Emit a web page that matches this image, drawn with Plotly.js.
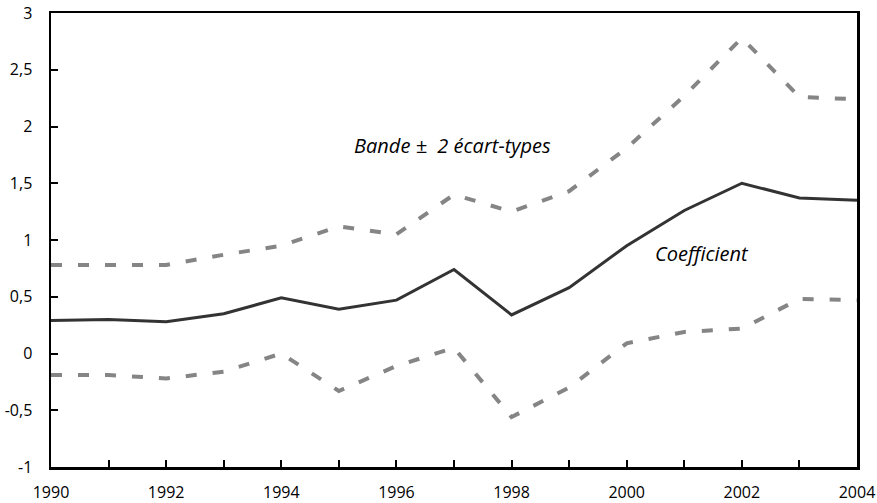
<!DOCTYPE html>
<html>
<head>
<meta charset="utf-8">
<script src="https://cdn.plot.ly/plotly-3.0.1.min.js"></script>
<style>html,body{margin:0;padding:0;background:#fff;}#chart{width:877px;height:503px;}</style>
</head>
<body>
<div id="chart"></div>
<script>
var years = [1990,1991,1992,1993,1994,1995,1996,1997,1998,1999,2000,2001,2002,2003,2004];
var coefficient = [0.29,0.30,0.28,0.35,0.49,0.39,0.47,0.74,0.34,0.58,0.95,1.26,1.50,1.37,1.35];
var upperBand = [0.78,0.78,0.78,0.87,0.95,1.12,1.05,1.40,1.25,1.43,1.81,2.27,2.78,2.26,2.24];
var lowerBand = [-0.19,-0.19,-0.22,-0.16,0.00,-0.33,-0.11,0.05,-0.56,-0.30,0.09,0.19,0.22,0.48,0.47];
var xTickVals = [1990,1992,1994,1996,1998,2000,2002,2004];
var xTickText = ['1990','1992','1994','1996','1998','2000','2002','2004'];
var yTickVals = [-1,-0.5,0,0.5,1,1.5,2,2.5,3];
var yTickText = ['-1','-0,5','0','0,5','1','1,5','2','2,5','3'];
var labelBand = 'Bande \u00B1  2 écart-types';
var labelCoef = 'Coefficient';

var font = 'Open Sans, DejaVu Sans, sans-serif';
var traces = [
  {x: years, y: upperBand, type: 'scatter', mode: 'lines', line: {color: '#858585', width: 4, dash: '11px,16px'}, hoverinfo: 'skip'},
  {x: years, y: lowerBand, type: 'scatter', mode: 'lines', line: {color: '#858585', width: 4, dash: '11px,16px'}, hoverinfo: 'skip'},
  {x: years, y: coefficient, type: 'scatter', mode: 'lines', line: {color: '#333333', width: 3}, hoverinfo: 'skip'}
];
var layout = {
  width: 877, height: 503,
  margin: {l: 51, r: 20, t: 13, b: 36, pad: 0},
  paper_bgcolor: '#fff', plot_bgcolor: '#fff',
  showlegend: false,
  font: {family: font, size: 16, color: '#000'},
  xaxis: {
    range: [1990, 2004], tickmode: 'array', tickvals: years,
    ticktext: years.map(function(y){ return xTickVals.indexOf(y) >= 0 ? xTickText[xTickVals.indexOf(y)] : ''; }),
    ticks: 'inside', ticklen: 7, tickwidth: 2, tickcolor: '#000',
    showline: true, linecolor: '#000', linewidth: 2.5, mirror: true,
    showgrid: false, zeroline: false, ticklabelstandoff: 9,
    tickfont: {family: font, size: 16, color: '#000'}
  },
  yaxis: {
    range: [-1, 3], tickmode: 'array', tickvals: yTickVals, ticktext: yTickText,
    ticks: 'inside', ticklen: 7, tickwidth: 2, tickcolor: '#000',
    showline: true, linecolor: '#000', linewidth: 2.5, mirror: true,
    showgrid: false, zeroline: false, ticklabelstandoff: 13,
    tickfont: {family: font, size: 16, color: '#000'}
  },
  annotations: [
    {x: 1996.98, y: 1.83, xref: 'x', yref: 'y', text: labelBand, showarrow: false,
     font: {family: font, size: 20, color: '#000', style: 'italic'}},
    {x: 2001.31, y: 0.88, xref: 'x', yref: 'y', text: labelCoef, showarrow: false,
     font: {family: font, size: 20, color: '#000', style: 'italic'}}
  ]
};
Plotly.newPlot('chart', traces, layout, {staticPlot: true, displayModeBar: false});
</script>
</body>
</html>
